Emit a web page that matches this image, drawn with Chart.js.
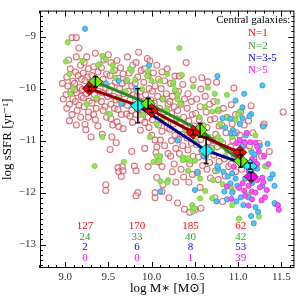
<!DOCTYPE html>
<html>
<head>
<meta charset="utf-8">
<script src="https://cdn.jsdelivr.net/npm/chart.js@4/dist/chart.umd.min.js"></script>
<style>
  html, body { margin: 0; padding: 0; background: #fff; }
</style>
</head>
<body>
<canvas id="chart" width="302" height="298"></canvas>
<script>
// axis ticks
const xTicks = [9.0, 9.5, 10.0, 10.5, 11.0, 11.5];
const yTicks = [-13, -12, -11, -10, -9];

// individual galaxies [log M*, log sSFR]
const galaxiesN1 = [
  [9.08,-9.02],[9.04,-9.45],[9.06,-9.62],[9.02,-9.78],[9.09,-9.86],[9.03,-9.95],[9.07,-10.05],[9.01,-10.12],[9.09,-10.2],[9.05,-10.3],[9.02,-10.38],[9.08,-10.5],[9.05,-10.62],[8.97,-9.9],[8.98,-10.2],
  [9.13,-9.02],[9.16,-9.22],[9.13,-9.39],[9.18,-9.55],[9.12,-9.68],[9.15,-9.75],[9.19,-9.82],[9.11,-9.9],[9.17,-9.98],[9.13,-10.08],[9.19,-10.15],[9.12,-10.25],[9.16,-10.32],[9.14,-10.42],[9.18,-10.55],[9.13,-10.7],[9.11,-10.02],
  [9.25,-9.39],[9.22,-9.5],[9.27,-9.62],[9.21,-9.7],[9.26,-9.78],[9.23,-9.85],[9.29,-9.92],[9.24,-10.1],[9.21,-10.18],[9.28,-10.24],[9.22,-10.35],[9.27,-10.45],[9.27,-10.55],[9.23,-10.69],[9.24,-10.79],[9.3,-10.93],[9.2,-10.02],
  [9.35,-9.32],[9.33,-9.58],[9.38,-9.68],[9.31,-9.75],[9.36,-9.83],[9.32,-9.95],[9.39,-10.05],[9.34,-10.12],[9.37,-10.2],[9.31,-10.28],[9.36,-10.38],[9.33,-10.5],[9.35,-10.6],[9.38,-10.72],
  [9.45,-9.45],[9.42,-9.6],[9.48,-9.72],[9.44,-9.82],[9.41,-9.9],[9.47,-10.0],[9.43,-10.08],[9.49,-10.15],[9.42,-10.25],[9.46,-10.35],[9.44,-10.42],[9.48,-10.55],[9.43,-10.88],[9.47,-11.85],[9.47,-11.96],
  [9.5,-9.35],[9.53,-9.5],[9.57,-9.65],[9.52,-9.75],[9.58,-9.88],[9.54,-9.95],[9.51,-10.05],[9.56,-10.15],[9.59,-10.22],[9.53,-10.3],[9.57,-10.38],[9.53,-10.58],[9.55,-10.7],[9.54,-10.93],[9.52,-11.17],
  [9.6,-9.46],[9.64,-9.6],[9.67,-9.72],[9.61,-9.8],[9.66,-9.9],[9.63,-10.0],[9.68,-10.1],[9.62,-10.18],[9.66,-10.28],[9.61,-10.4],[9.65,-10.5],[9.6,-10.64],[9.62,-10.73],[9.67,-10.77],[9.59,-11.04],[9.66,-11.5],[9.61,-11.52],[9.62,-11.6],[9.65,-11.69],[9.67,-11.58],
  [9.72,-9.39],[9.78,-9.55],[9.74,-9.7],[9.71,-9.85],[9.77,-9.95],[9.73,-10.05],[9.79,-10.12],[9.75,-10.22],[9.72,-10.32],[9.77,-10.42],[9.71,-10.49],[9.75,-10.53],[9.78,-10.65],[9.77,-11.21],
  [9.85,-9.3],[9.82,-9.5],[9.88,-9.65],[9.84,-9.78],[9.81,-9.9],[9.87,-10.05],[9.83,-10.15],[9.89,-10.25],[9.86,-10.4],[9.82,-10.5],[9.88,-10.6],[9.87,-10.8],[9.8,-11.49],[9.82,-11.58],[9.84,-12.0],[9.82,-12.06],
  [9.95,-9.42],[9.98,-9.47],[9.92,-9.62],[9.96,-9.75],[9.91,-9.88],[9.97,-10.0],[9.93,-10.12],[9.99,-10.22],[9.94,-10.35],[9.9,-10.45],[9.96,-10.55],[9.92,-10.65],[9.97,-10.75],[9.92,-11.15],[9.96,-11.5],
  [10.06,-9.55],[10.02,-9.7],[10.08,-9.82],[10.04,-9.95],[10.01,-10.05],[10.07,-10.15],[10.03,-10.28],[10.09,-10.38],[10.05,-10.5],[10.01,-10.6],[10.08,-10.7],[10.12,-10.82],[10.0,-10.9],[10.04,-10.99],[10.06,-11.12],[10.05,-11.23],[10.08,-11.41],[10.06,-11.71],[10.04,-12.0],[10.04,-12.1],
  [10.12,-9.68],[10.18,-9.62],[10.15,-9.85],[10.11,-10.0],[10.17,-10.1],[10.13,-10.2],[10.19,-10.3],[10.14,-10.45],[10.11,-10.55],[10.16,-10.65],[10.18,-10.75],[10.1,-10.99],[10.15,-11.1],[10.12,-11.5],[10.13,-11.85],[10.19,-11.25],[10.12,-11.98],
  [10.27,-9.76],[10.22,-9.9],[10.28,-10.05],[10.24,-10.15],[10.21,-10.25],[10.26,-10.35],[10.23,-10.48],[10.29,-10.58],[10.25,-10.68],[10.21,-10.78],[10.27,-10.9],[10.23,-11.0],[10.28,-11.15],[10.22,-11.3],[10.26,-11.45],[10.24,-11.6],[10.2,-12.1],[10.28,-11.8],
  [10.32,-9.76],[10.36,-9.92],[10.31,-10.05],[10.38,-10.2],[10.34,-10.3],[10.3,-10.42],[10.37,-10.55],[10.33,-10.65],[10.39,-10.75],[10.35,-10.88],[10.31,-10.98],[10.36,-11.1],[10.32,-11.25],[10.38,-11.35],[10.34,-11.55],[10.37,-11.7],[10.3,-12.2],[10.38,-12.32],
  [10.4,-9.5],[10.48,-9.83],[10.42,-10.1],[10.46,-10.25],[10.41,-10.38],[10.47,-10.5],[10.43,-10.62],[10.49,-10.72],[10.44,-10.85],[10.41,-10.95],[10.46,-11.05],[10.42,-11.18],[10.48,-11.3],[10.44,-11.45],[10.47,-11.65],[10.43,-11.8],[10.44,-12.38],
  [10.58,-9.79],[10.57,-10.01],[10.52,-10.2],[10.56,-10.35],[10.51,-10.48],[10.55,-10.6],[10.59,-10.72],[10.53,-10.85],[10.57,-10.98],[10.52,-11.08],[10.58,-11.2],[10.54,-11.32],[10.59,-11.48],[10.53,-11.62],[10.56,-11.9],[10.5,-12.33],[10.57,-12.3],
  [10.65,-9.87],[10.62,-10.15],[10.67,-10.3],[10.63,-10.45],[10.68,-10.6],[10.64,-10.75],[10.61,-10.9],[10.66,-11.02],[10.69,-11.15],[10.62,-11.3],[10.67,-11.42],[10.64,-11.55],[10.68,-11.72],
  [10.75,-9.88],[10.72,-10.25],[10.77,-10.42],[10.73,-10.58],[10.78,-10.72],[10.74,-10.88],[10.71,-11.0],[10.76,-11.12],[10.72,-11.28],[10.78,-11.4],[10.74,-11.58],[10.77,-11.75],[10.73,-12.1],
  [10.83,-10.38],[10.87,-10.55],[10.81,-10.7],[10.86,-10.85],[10.82,-11.05],[10.88,-11.18],[10.84,-11.35],[10.89,-11.5],[10.85,-11.68],[10.82,-12.17],
  [10.95,-9.99],[10.92,-10.31],[10.97,-10.5],[10.93,-10.68],[10.98,-10.85],[10.94,-11.0],[10.91,-11.12],[10.96,-11.3],[10.92,-11.45],[10.97,-11.6],
  [11.03,-10.45],[11.07,-10.7],[11.02,-10.9],[11.06,-11.1],[11.01,-11.25],[11.08,-11.42],[11.04,-11.55],
  [11.15,-10.33],[11.12,-10.62],[11.17,-10.85],[11.13,-11.1],[11.18,-11.35],
  [11.29,-10.71],[11.24,-11.05],[11.27,-11.3],[11.36,-11.21],[11.52,-10.45],[11.3,-10.68]
];
const galaxiesN2 = [
  [9.03,-9.11],[9.01,-9.48],[9.2,-9.46],[9.43,-9.37],[9.47,-9.44],[9.4,-9.53],[9.38,-9.55],[9.55,-9.55],[9.55,-9.66],[9.58,-9.79],
  [9.72,-9.83],[9.77,-9.66],[9.75,-9.62],[9.81,-9.83],[9.95,-9.76],[9.05,-9.72],[9.09,-10.0],[9.06,-10.1],[9.36,-10.18],[9.5,-10.48],
  [9.52,-10.49],[9.43,-10.93],[9.34,-11.49],[9.68,-11.41],[9.89,-10.01],[9.96,-9.66],[10.0,-9.85],[10.1,-9.85],[10.18,-9.72],[10.25,-9.92],
  [10.27,-10.03],[10.13,-10.2],[10.18,-10.38],[10.3,-10.21],[10.13,-10.58],[10.06,-10.68],[9.98,-10.93],[10.31,-10.58],[10.35,-9.74],[10.32,-9.22],
  [10.48,-9.96],[10.65,-9.98],[10.73,-10.1],[10.76,-10.25],[10.77,-10.4],[10.87,-10.12],[11.02,-10.44],[10.62,-10.35],[10.7,-10.44],[10.25,-9.88],
  [10.3,-10.12],[10.33,-10.29],[10.18,-10.44],[10.97,-10.6],[11.0,-10.5],[10.79,-10.68],[10.87,-10.55],[10.93,-10.93],[10.66,-10.93],[10.77,-10.93],
  [10.8,-11.0],[10.7,-11.17],[10.36,-11.32],[10.45,-11.39],[10.5,-11.39],[10.42,-11.58],[10.56,-11.73],[10.71,-11.76],[10.76,-11.58],[10.92,-11.91],
  [10.82,-11.84],[10.19,-11.76],[10.18,-11.8],[11.31,-11.49],[11.33,-11.5],[10.06,-11.3],[10.1,-11.3],[10.02,-11.41],[10.1,-11.78],[10.09,-11.39],
  [10.36,-11.38],[10.42,-11.34],[10.48,-12.3],[10.48,-12.36],[10.56,-12.11],[10.7,-12.11],[11.01,-12.5],[10.94,-11.97],[11.12,-12.04],[11.24,-12.46],
  [10.93,-12.24],[10.47,-12.24],[10.49,-12.3],[10.62,-11.97],[9.62,-10.2],[9.8,-10.3],[9.7,-10.05],[9.9,-10.5],[10.55,-10.55],[10.6,-10.7],
  [10.85,-11.3],[11.05,-11.1],[11.15,-11.2],[10.95,-11.25],[11.2,-10.9],[9.25,-10.3],[10.4,-10.8],[10.5,-11.0]
];
const galaxiesN3to5 = [
  [9.23,-8.85],[9.47,-9.9],[9.62,-9.85],[9.82,-10.0],[9.65,-10.29],[9.97,-9.55],[10.76,-9.76],[11.28,-9.94],[11.07,-10.1],[10.97,-10.23],
  [11.05,-10.36],[11.15,-10.49],[11.13,-10.53],[11.29,-10.73],[11.34,-11.06],[11.4,-11.65],[11.42,-11.87],[11.43,-12.22],[11.37,-11.73],[11.28,-11.87],
  [11.2,-12.28],[11.23,-12.37],[11.06,-12.24],[11.03,-12.09],[10.98,-12.17],[10.87,-12.13],[10.5,-11.95],[10.84,-11.98],[10.82,-10.57],[10.91,-10.58],
  [11.05,-10.57],[11.02,-10.68],[10.94,-10.8],[10.92,-10.86],[10.96,-10.86],[11.09,-10.9],[11.07,-11.03],[11.05,-11.1],[11.16,-11.23],[11.19,-11.27],
  [11.1,-11.45],[11.22,-11.54],[10.77,-11.54],[10.76,-11.49],[10.83,-11.6],[10.88,-11.69],[10.93,-11.63],[10.97,-11.73],[11.08,-11.73],[11.16,-11.82],
  [11.12,-12.09],[10.53,-11.6],[10.99,-11.87],[10.91,-11.82],[10.93,-12.0],[10.1,-11.98],[11.18,-12.59],[11.15,-12.45],[10.75,-12.17],[11.42,-12.2],
  [10.85,-10.75],[11.0,-11.4],[11.25,-11.1],[10.6,-11.3],[10.3,-11.0]
];
const galaxiesN6plus = [
  [11.02,-10.99],[11.08,-11.04],[11.14,-11.03],[11.2,-11.04],[11.22,-11.12],[11.24,-11.21],[11.08,-11.41],[11.16,-11.36],[11.19,-11.4],[11.22,-11.45],
  [11.12,-11.58],[11.17,-11.67],[11.22,-11.76],[11.12,-11.87],[11.05,-11.82],[11.01,-11.91],[11.28,-11.71],[11.29,-11.8],[11.31,-12.09],[11.27,-12.15],
  [11.46,-12.24],[11.47,-12.33],[11.16,-12.13],[11.16,-11.98],[11.07,-11.96],[11.08,-12.06],[10.95,-11.2],[11.0,-11.3],[10.92,-12.12],[11.25,-11.9],
  [11.18,-11.52],[11.3,-11.3],[11.35,-11.45],[11.1,-10.85],[10.98,-11.05],[11.2,-12.0],[11.33,-11.95],[10.87,-11.88],[10.95,-11.5],[11.12,-12.25]
];

// binned means and errors
const massN1 = [9.28, 10.0, 10.48, 11.02];
const ssfrN1 = [-10.0, -10.42, -10.84, -11.23];
const errN1 = [0.04, 0.04, 0.05, 0.05];
const massN2 = [9.35, 9.96, 10.56, 11.03];
const ssfrN2 = [-9.87, -10.29, -10.8, -11.39];
const errN2 = [0.1, 0.1, 0.13, 0.12];
const massN3to5 = [9.84, 10.63, 11.14];
const ssfrN3to5 = [-10.33, -11.19, -11.49];
const errN3to5 = [0.33, 0.25, 0.06];
const massN6plus = [11.15];
const ssfrN6plus = [-11.69];
const errN6plus = [0.08];

// number of galaxies per mass bin
const countMass = [9.23, 9.83, 10.45, 11.03];
const countsN1 = [127, 170, 185, 62];
const countsN2 = [24, 33, 40, 42];
const countsN3to5 = [2, 6, 8, 53];
const countsN6plus = [0, 0, 1, 39];

const serif = "'Liberation Serif', 'DejaVu Serif', serif";
const toXY = arr => arr.map(p => ({x: p[0], y: p[1]}));
const zipXY = (xs, ys) => xs.map((v, i) => ({x: v, y: ys[i]}));

function cloud(data, bg, border, radius, width, order) {
    return {
        data: toXY(data), backgroundColor: bg, borderColor: border,
        borderWidth: width, pointRadius: radius, showLine: false, order: order
    };
}
function meanLine(xs, ys, color) {
    return {
        data: zipXY(xs, ys), borderColor: color, borderWidth: 3,
        showLine: true, pointRadius: 0, order: 20
    };
}
function diamonds(xs, ys, color) {
    return {
        data: zipXY(xs, ys), backgroundColor: color, borderColor: '#000',
        borderWidth: 0.6, pointStyle: 'rectRot', pointRadius: 7,
        showLine: false, order: 10
    };
}

const errGroups = [
    {m: massN1, s: ssfrN1, e: errN1},
    {m: massN2, s: ssfrN2, e: errN2},
    {m: massN3to5, s: ssfrN3to5, e: errN3to5},
    {m: massN6plus, s: ssfrN6plus, e: errN6plus}
];

const overlay = {
    id: 'overlay',
    afterDatasetsDraw(chart) {
        const {ctx, scales: {x, y}} = chart;
        ctx.save();
        ctx.strokeStyle = '#000';
        ctx.lineWidth = 1.4;
        errGroups.forEach(g => {
            g.m.forEach((mv, i) => {
                const px = x.getPixelForValue(mv);
                const y1 = y.getPixelForValue(g.s[i] - g.e[i]);
                const y2 = y.getPixelForValue(g.s[i] + g.e[i]);
                ctx.beginPath();
                ctx.moveTo(px, y1); ctx.lineTo(px, y2);
                ctx.moveTo(px - 2.5, y1); ctx.lineTo(px + 2.5, y1);
                ctx.moveTo(px - 2.5, y2); ctx.lineTo(px + 2.5, y2);
                ctx.stroke();
            });
        });
        ctx.restore();
    },
    afterDraw(chart) {
        const {ctx, chartArea: a, scales: {x, y}} = chart;
        ctx.save();
        // frame
        ctx.strokeStyle = '#000';
        ctx.lineWidth = 1;
        ctx.strokeRect(a.left + 0.5, a.top + 0.5, a.right - a.left - 1, a.bottom - a.top - 1);
        // inward ticks on all sides
        ctx.beginPath();
        for (let k = 87; k <= 116; k++) {
            const len = k % 5 === 0 ? 6 : 3;
            const px = Math.round(x.getPixelForValue(k / 10)) + 0.5;
            ctx.moveTo(px, a.bottom); ctx.lineTo(px, a.bottom - len);
            ctx.moveTo(px, a.top); ctx.lineTo(px, a.top + len);
        }
        for (let k = -134; k <= -86; k++) {
            const len = k % 10 === 0 ? 6 : 3;
            const py = Math.round(y.getPixelForValue(k / 10)) + 0.5;
            ctx.moveTo(a.left, py); ctx.lineTo(a.left + len, py);
            ctx.moveTo(a.right, py); ctx.lineTo(a.right - len, py);
        }
        ctx.stroke();

        // counts per bin
        ctx.font = '11px ' + serif;
        ctx.textAlign = 'center';
        ctx.textBaseline = 'middle';
        const rows = [[countsN1, '#ff0000'], [countsN2, '#3a9a3a'], [countsN3to5, '#0000ff'], [countsN6plus, '#ff00ff']];
        const row0 = y.getPixelForValue(-12.65);
        rows.forEach((r, j) => {
            ctx.fillStyle = r[1];
            r[0].forEach((n, i) => ctx.fillText(String(n), x.getPixelForValue(countMass[i]), row0 + j * 10.5));
        });

        // legend
        ctx.textAlign = 'right';
        ctx.fillStyle = '#000';
        ctx.fillText('Central galaxies:', a.right - 4, a.top + 10);
        ctx.textAlign = 'left';
        const leg = [['N=1', '#ff0000'], ['N=2', '#3a9a3a'], ['N=3-5', '#0000ff'], ['N>5', '#ff00ff']];
        leg.forEach((l, j) => {
            ctx.fillStyle = l[1];
            ctx.fillText(l[0], a.left + 208, a.top + 23 + j * 12.3);
        });
        ctx.restore();
    }
};

new Chart(document.getElementById('chart'), {
    type: 'scatter',
    data: {
        datasets: [
            cloud(galaxiesN1, 'rgba(255,225,225,0.35)', 'rgba(200,85,92,0.8)', 3, 1.1, 40),
            cloud(galaxiesN2, '#98e25a', '#78c844', 2.6, 0.8, 39),
            cloud(galaxiesN3to5, '#4ccaf2', '#3a8ad6', 2.6, 0.8, 38),
            cloud(galaxiesN6plus, '#ff55ff', '#d433d4', 2.6, 0.8, 37),
            meanLine(massN1, ssfrN1, '#8b0000'),
            meanLine(massN3to5, ssfrN3to5, '#00008b'),
            meanLine(massN2, ssfrN2, '#228b22'),
            diamonds(massN1, ssfrN1, '#ff0000'),
            diamonds(massN2, ssfrN2, '#66ee00'),
            diamonds(massN3to5, ssfrN3to5, '#00ffff'),
            diamonds(massN6plus, ssfrN6plus, '#ff00ff')
        ]
    },
    options: {
        responsive: false,
        animation: false,
        layout: {padding: {top: 1, right: 5, left: 0, bottom: 0}},
        plugins: {legend: {display: false}, tooltip: {enabled: false}},
        scales: {
            x: {
                type: 'linear', min: 8.71, max: 11.65,
                grid: {display: false, drawTicks: false},
                border: {display: false},
                afterBuildTicks: s => { s.ticks = xTicks.map(v => ({value: v})); },
                afterFit: s => { s.height = 30; },
                ticks: {
                    padding: 3, color: '#333', font: {family: serif, size: 11},
                    callback: v => Number(v).toFixed(1)
                },
                title: {display: true, text: 'log M\u2217 [M\u2299]', color: '#000',
                        font: {family: serif, size: 13}, padding: {top: 0, bottom: 2}}
            },
            y: {
                type: 'linear', min: -13.45, max: -8.5,
                grid: {display: false, drawTicks: false},
                border: {display: false},
                afterBuildTicks: s => { s.ticks = yTicks.map(v => ({value: v})); },
                afterFit: s => { s.width = 40; },
                ticks: {
                    padding: 4, color: '#333', font: {family: serif, size: 11},
                    callback: v => '\u2212' + Math.abs(v)
                },
                title: {display: true, text: 'log sSFR [yr\u207B\u00B9]', color: '#000',
                        font: {family: serif, size: 13}, padding: {top: 0, bottom: 0}}
            }
        }
    },
    plugins: [overlay]
});
</script>
</body>
</html>
